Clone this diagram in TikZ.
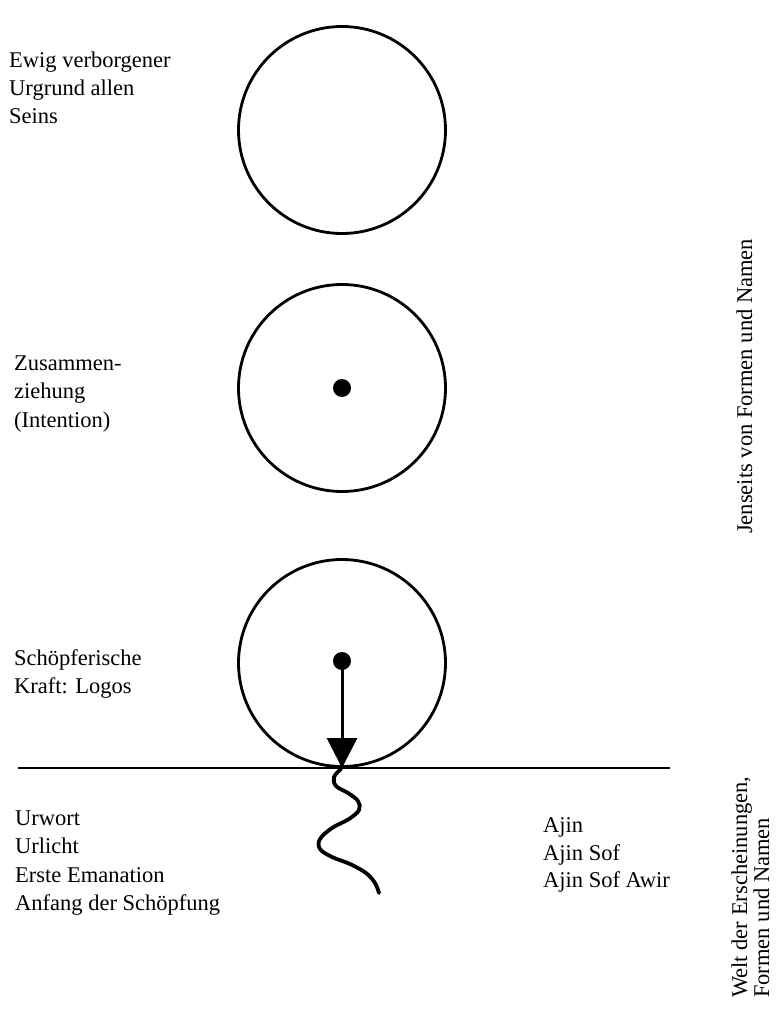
\documentclass[tikz,border=0pt]{standalone}
\usepackage{fontspec}
\setmainfont{Liberation Serif}
\usetikzlibrary{arrows.meta}
\begin{document}
\begin{tikzpicture}[x=1pt,y=-1pt,
  lbl/.style={anchor=base west,inner sep=0pt,font=\fontsize{22.5}{27}\selectfont},
  vlbl/.style={lbl,rotate=90},
  ring/.style={circle,draw,line width=2.8pt,minimum size=207pt,inner sep=0pt},
  blob/.style={circle,fill,minimum size=18pt,inner sep=0pt},
  shaft/.style={line width=3pt,-{Triangle[width=30pt,length=30pt]}},
  wave/.style={line width=3.8pt,line cap=round},
  ground/.style={line width=2pt}]
\useasboundingbox (0,0) rectangle (778,1016);
% circles
\node[ring] (c1) at (342,130) {};
\node[ring] (c2) at (342,388) {};
\node[ring] (c3) at (342,663) {};
\node[blob] (d2) at (342,388) {};
\node[blob] (d3) at (342,661) {};
% ground line
\coordinate (gl) at (18,768);
\coordinate (gr) at (670,768);
\coordinate (touch) at (342,768);
\draw[ground] (gl) -- (gr);
% arrow
\draw[shaft] (d3.center) -- (touch);
% wave
\draw[wave] (touch) plot[smooth,tension=0.6] coordinates {(341,769) (334,777) (336,786) (348,793) (358,801) (359,810) (349,819) (332,828) (320,839) (320,849) (332,857) (350,864) (366,873) (375,883) (379,893)};
% left labels
\node[lbl] (t1a) at (9,68) {Ewig verborgener};
\node[lbl] (t1b) at (9,96) {Urgrund allen};
\node[lbl] (t1c) at (9,124) {Seins};
\node[lbl] (t2a) at (14,370) {Zusammen-};
\node[lbl] (t2b) at (14,398) {ziehung};
\node[lbl] (t2c) at (14,427) {(Intention)};
\node[lbl] (t3a) at (14,665) {Schöpferische};
\node[lbl] (t3b) at (14,693) {Kraft: Logos};
\node[lbl] (t4a) at (15,825) {Urwort};
\node[lbl] (t4b) at (15,853) {Urlicht};
\node[lbl] (t4c) at (15,882) {Erste Emanation};
\node[lbl] (t4d) at (15,910) {Anfang der Schöpfung};
\node[lbl] (t5a) at (543,832) {Ajin};
\node[lbl] (t5b) at (543,860) {Ajin Sof};
\node[lbl] (t5c) at (543,887) {Ajin Sof Awir};
% vertical labels
\node[vlbl] (v1) at (752,534) {Jenseits von Formen und Namen};
\node[vlbl] (v2a) at (747,998) {Welt der Erscheinungen,};
\node[vlbl] (v2b) at (769,998) {Formen und Namen};
\end{tikzpicture}
\end{document}
